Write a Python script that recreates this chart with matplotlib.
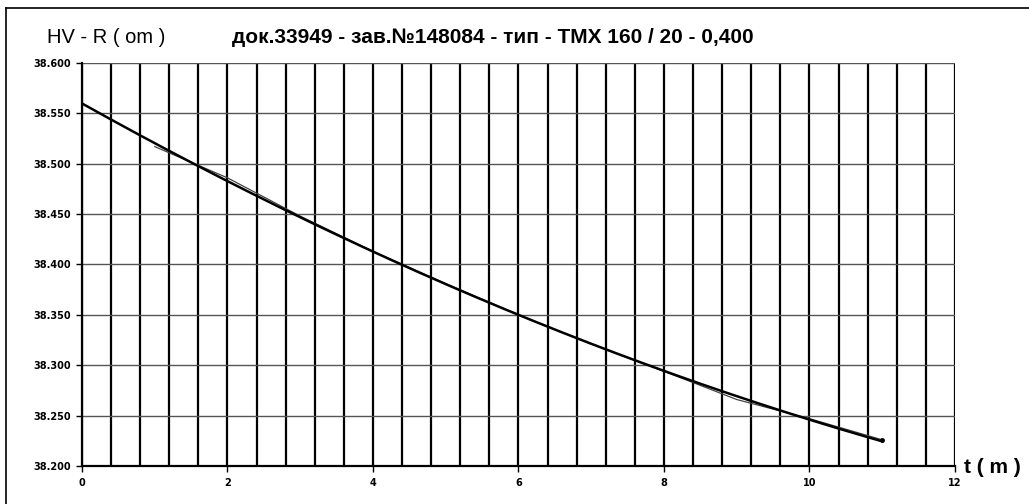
import numpy as np
import matplotlib
matplotlib.use("Agg")
import matplotlib.pyplot as plt
from matplotlib.ticker import MultipleLocator, FuncFormatter

plt.rcParams['font.family'] = ['Liberation Sans', 'DejaVu Sans']

# measured resistance HV - R (om) vs time t (m)
t_meas = [1, 2, 3, 4, 5, 6, 7, 8, 9, 10, 11]
r_meas = [38.517, 38.486, 38.448, 38.413, 38.381, 38.350,
          38.321, 38.294, 38.266, 38.247, 38.226]

# polynomial trend line (2nd order), extended back to t = 0
coef = np.polyfit(t_meas, r_meas, 2)
t_fit = np.linspace(0, 11, 200)
r_fit = np.polyval(coef, t_fit)

fig = plt.figure(figsize=(10.29, 5.04), dpi=100)
ax = fig.add_axes([0.0797, 0.0754, 0.8483, 0.7996])

ax.plot(t_meas, r_meas, color='#444444', lw=0.9, zorder=3)
ax.plot(t_meas[-1], r_meas[-1], 'o', color='black', ms=2.5, zorder=4)
ax.plot(t_fit, r_fit, color='black', lw=1.8, zorder=4)

ax.set_xlim(0, 12)
ax.set_ylim(38.2, 38.6)
ax.xaxis.set_major_locator(MultipleLocator(2))
ax.xaxis.set_minor_locator(MultipleLocator(0.4))
ax.yaxis.set_major_locator(MultipleLocator(0.05))
ax.yaxis.set_major_formatter(FuncFormatter(lambda v, p: f"{v:.3f}"))

ax.grid(which='both', axis='x', color='black', lw=1.6)
ax.grid(which='major', axis='y', color='#555555', lw=1.0)
ax.set_axisbelow(True)

for s in ['top', 'right']:
    ax.spines[s].set_visible(False)
ax.spines['left'].set_linewidth(1.6)
ax.spines['bottom'].set_linewidth(1.6)
ax.tick_params(axis='x', which='major', length=4, width=1, pad=5, labelsize=7)
ax.tick_params(axis='x', which='minor', length=0)
ax.tick_params(axis='y', length=4, width=1, pad=4, labelsize=7)
for lab in ax.get_xticklabels() + ax.get_yticklabels():
    lab.set_fontweight('bold')
    lab.set_family('DejaVu Sans')

fig.text(0.046, 0.925, 'HV - R ( om )', fontsize=14.5, va='center', ha='left')
fig.text(0.2255, 0.925, 'док.33949 - зав.№148084 - тип - ТМХ 160 / 20 - 0,400',
         fontsize=15, fontweight='bold', va='center', ha='left')
fig.text(0.937, 0.072, 't ( m )', fontsize=15, fontweight='bold', va='center', ha='left')

# outer frame (top and left edges)
fig.add_artist(plt.Line2D([0.006, 1.0], [0.985, 0.985], transform=fig.transFigure,
                          color='black', lw=1.2))
fig.add_artist(plt.Line2D([0.006, 0.006], [0.0, 0.985], transform=fig.transFigure,
                          color='black', lw=1.2))

fig.savefig('out.png', dpi=100)
